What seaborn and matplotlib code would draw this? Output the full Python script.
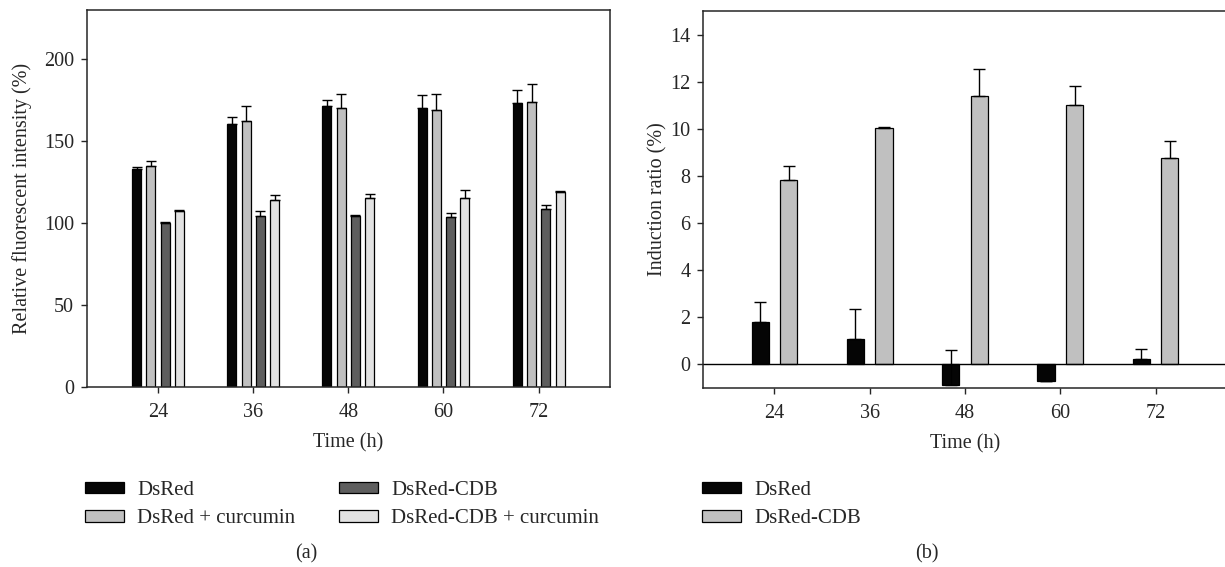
import pandas as pd
import seaborn as sns
import matplotlib.pyplot as plt
from matplotlib.patches import Patch

# datos
horas = [24, 36, 48, 60, 72]

series_a = ['DsRed', 'DsRed + curcumin', 'DsRed-CDB', 'DsRed-CDB + curcumin']
dsred = [133.0, 160.4, 171.3, 170.3, 173.4]
dsred_cur = [135.0, 162.2, 169.9, 169.1, 174.0]
cdb = [100.0, 104.0, 104.0, 103.7, 108.7]
cdb_cur = [107.5, 114.2, 115.4, 115.2, 118.9]
err_dsred = [1.4, 4.0, 3.7, 7.5, 7.7]
err_dsred_cur = [3.0, 9.0, 9.0, 9.4, 10.8]
err_cdb = [0.5, 3.0, 1.0, 2.6, 2.3]
err_cdb_cur = [0.5, 3.0, 2.3, 4.8, 0.5]

series_b = ['DsRed', 'DsRed-CDB']
ratio_dsred = [1.78, 1.07, -0.88, -0.71, 0.23]
ratio_cdb = [7.83, 10.04, 11.40, 10.99, 8.74]
err_ratio_dsred = [0.87, 1.28, 1.49, 0.0, 0.41]
err_ratio_cdb = [0.60, 0.05, 1.12, 0.83, 0.72]

colores_a = ['#050505', '#c0c0c0', '#5e5e5e', '#e2e2e2']
colores_b = ['#050505', '#c0c0c0']

sns.set_style('ticks')
plt.rcParams['font.family'] = ['Liberation Serif', 'DejaVu Serif']
plt.rcParams['font.size'] = 14.5

W, H = 1225, 567
fig = plt.figure(figsize=(W / 100, H / 100), dpi=100)
ax_a = fig.add_axes([86.7 / W, 1 - 386.7 / H, 523.3 / W, 376.7 / H])
ax_b = fig.add_axes([703 / W, 1 - 387.7 / H, 524 / W, 376.7 / H])


def tabla(series, valores):
    filas = []
    for s, vals in zip(series, valores):
        for h, v in zip(horas, vals):
            filas.append({'time': h, 'serie': s, 'valor': v})
    return pd.DataFrame(filas)


def barras(ax, df, series, colores, errores, gap, capsize):
    sns.barplot(data=df, x='time', y='valor', hue='serie', hue_order=series,
                palette=colores, native_scale=True, width=0.6, gap=gap,
                errorbar=None, edgecolor='black', linewidth=0.9,
                legend=False, ax=ax)
    for cont, errs in zip(ax.containers, errores):
        rects = sorted(cont, key=lambda r: r.get_x())
        for r, e in zip(rects, errs):
            xc = r.get_x() + r.get_width() / 2
            ax.errorbar(xc, r.get_height(), yerr=[[0], [e]], fmt='none',
                        ecolor='black', elinewidth=1.0, capsize=capsize,
                        capthick=1.0, zorder=3)


# (a)
df_a = tabla(series_a, [dsred, dsred_cur, cdb, cdb_cur])
barras(ax_a, df_a, series_a, colores_a,
       [err_dsred, err_dsred_cur, err_cdb, err_cdb_cur], 0.37, 3.6)
ax_a.set_xlim(15, 81)
ax_a.set_ylim(0, 230)
ax_a.set_xticks(horas)
ax_a.set_yticks([0, 50, 100, 150, 200])
ax_a.set_xlabel('Time (h)', labelpad=8)
ax_a.set_ylabel('Relative fluorescent intensity (%)', labelpad=9)

# (b)
df_b = tabla(series_b, [ratio_dsred, ratio_cdb])
barras(ax_b, df_b, series_b, colores_b,
       [err_ratio_dsred, err_ratio_cdb], 0.4, 4.0)
ax_b.axhline(0, color='black', lw=1.0, zorder=1)
ax_b.set_xlim(15, 81)
ax_b.set_ylim(-1, 15)
ax_b.set_xticks(horas)
ax_b.set_yticks(range(0, 15, 2))
ax_b.set_xlabel('Time (h)', labelpad=8)
ax_b.set_ylabel('Induction ratio (%)', labelpad=2)
ax_b.spines['right'].set_visible(False)

for ax in (ax_a, ax_b):
    for sp in ax.spines.values():
        sp.set_linewidth(1.1)
    ax.tick_params(direction='out', length=4, width=1, labelsize=14.5, pad=5)
    ax.tick_params(axis='x', pad=8)

# leyendas
opts = dict(frameon=False, loc='upper left', borderpad=0, borderaxespad=0,
            handlelength=1.85, handleheight=0.45, handletextpad=0.65,
            labelspacing=0.45, fontsize=15)
h_a = [Patch(facecolor=c, edgecolor='black', linewidth=0.9, label=s)
       for s, c in zip(series_a, colores_a)]
fig.legend(handles=h_a, ncol=2, columnspacing=2.1,
           bbox_to_anchor=(85 / W, 1 - 481 / H), **opts)
h_b = [Patch(facecolor=c, edgecolor='black', linewidth=0.9, label=s)
       for s, c in zip(series_b, colores_b)]
fig.legend(handles=h_b, ncol=1, bbox_to_anchor=(702 / W, 1 - 481 / H), **opts)

fig.text(306 / W, 1 - 554 / H, '(a)', ha='center', va='center', fontsize=14.5)
fig.text(927 / W, 1 - 554 / H, '(b)', ha='center', va='center', fontsize=14.5)

fig.savefig('out.png', dpi=100)
